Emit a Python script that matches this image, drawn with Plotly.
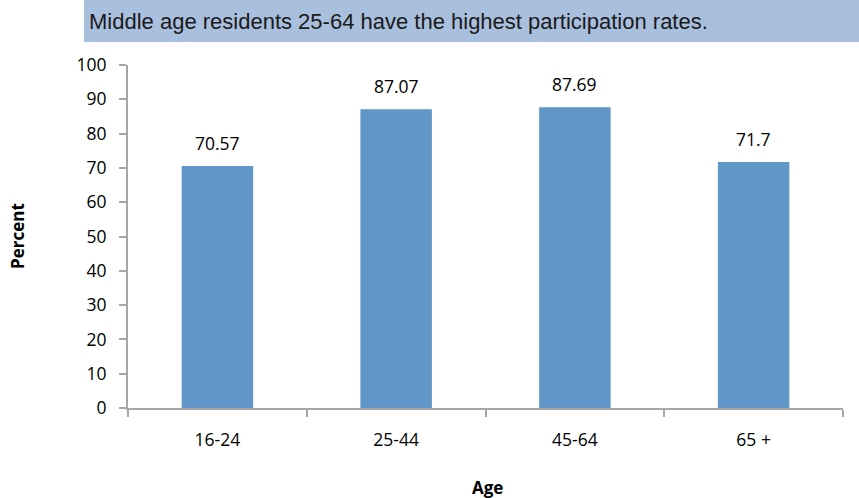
import plotly.graph_objects as go

# Labor force participation rate by age group
age_groups = ["16-24", "25-44", "45-64", "65 +"]
participation = [70.57, 87.07, 87.69, 71.7]
value_labels = ["70.57", "87.07", "87.69", "71.7"]
y_ticks = [0, 10, 20, 30, 40, 50, 60, 70, 80, 90, 100]

W, H = 859, 498
L, R, T, B = 128, 16, 65, 90
pw, ph = W - L - R, H - T - B


def px_x(px):
    return (px - L) / pw


def px_y(py):
    return (H - B - py) / ph


font_family = "Open Sans, Liberation Sans, sans-serif"
tick_font = dict(family=font_family, size=17.5, color="#000000")
axis_grey = "#A6A6A6"

fig = go.Figure(
    go.Bar(
        x=age_groups,
        y=participation,
        marker=dict(color="#6096C8", line=dict(width=0)),
        width=0.4,
    )
)

# value labels sitting above each bar
value_annotations = [
    dict(
        x=cat, y=val, text=lbl, xref="x", yref="y",
        xanchor="center", yanchor="bottom", yshift=9, showarrow=False,
        font=tick_font,
    )
    for cat, val, lbl in zip(age_groups, participation, value_labels)
]

fig.update_layout(
    width=W,
    height=H,
    margin=dict(l=L, r=R, t=T, b=B),
    paper_bgcolor="white",
    plot_bgcolor="white",
    showlegend=False,
    shapes=[
        dict(
            type="rect", xref="paper", yref="paper",
            x0=px_x(84), x1=px_x(859), y0=px_y(42), y1=px_y(0),
            fillcolor="#A9BFDE", line=dict(width=0), layer="below",
        )
    ],
    annotations=value_annotations + [
        dict(
            text="Middle age residents 25-64 have the highest participation rates.",
            xref="paper", yref="paper", x=px_x(87), y=px_y(22),
            xanchor="left", yanchor="middle", showarrow=False,
            font=dict(family="Liberation Sans Narrow, Arial Narrow, Liberation Sans, sans-serif",
                      size=22, color="#1a1a1a"),
        ),
        dict(
            text="<b>Percent</b>", xref="paper", yref="paper",
            x=px_x(18), y=px_y(236), xanchor="center", yanchor="middle",
            textangle=-90, showarrow=False,
            font=dict(family=font_family, size=17, color="#000"),
        ),
        dict(
            text="<b>Age</b>", xref="paper", yref="paper",
            x=px_x(487), y=px_y(488), xanchor="center", yanchor="middle",
            showarrow=False,
            font=dict(family=font_family, size=17, color="#000"),
        ),
    ],
)

fig.update_xaxes(
    showline=True, linecolor=axis_grey, linewidth=2,
    ticks="outside", tickson="boundaries", ticklen=7, tickcolor=axis_grey, tickwidth=2,
    tickfont=tick_font, showgrid=False, ticklabelstandoff=15,
)

fig.update_yaxes(
    range=[0, 100], tickvals=y_ticks,
    showline=True, linecolor=axis_grey, linewidth=2,
    ticks="outside", ticklen=7, tickcolor=axis_grey, tickwidth=2,
    tickfont=tick_font, showgrid=False, zeroline=False, ticklabelstandoff=9,
)

fig.write_html("out.html")
